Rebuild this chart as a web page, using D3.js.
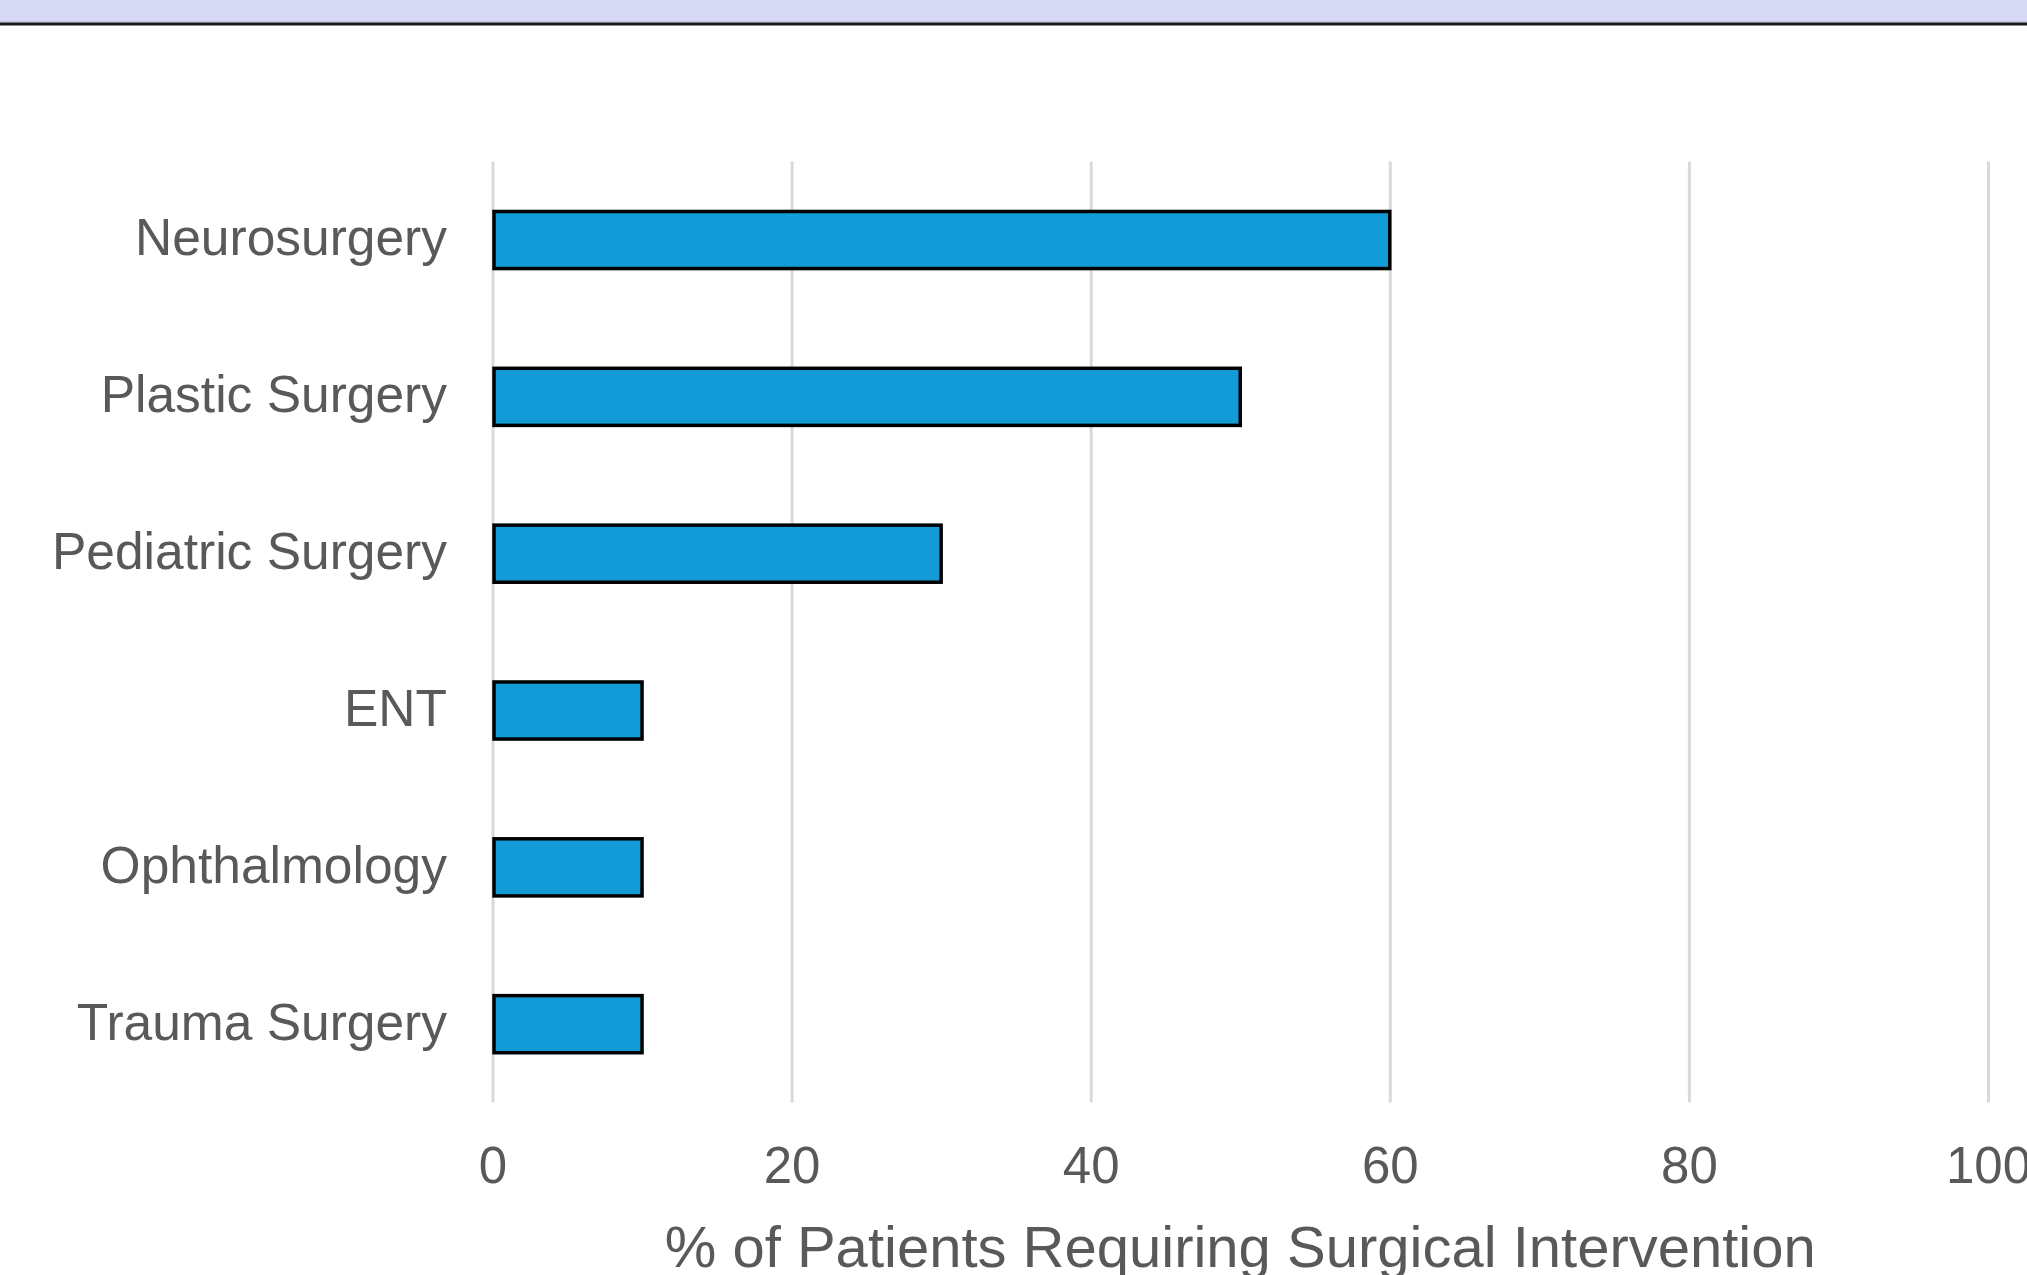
<!DOCTYPE html>
<html>
<head>
<meta charset="utf-8">
<script src="https://cdn.jsdelivr.net/npm/d3@7"></script>
<style>
  html, body { margin: 0; padding: 0; background: #fff; overflow: hidden; }
  svg { display: block; }
</style>
</head>
<body>
<svg id="chart"></svg>
<script>
// chart data
const specialties = ["Neurosurgery", "Plastic Surgery", "Pediatric Surgery", "ENT", "Ophthalmology", "Trauma Surgery"];
const percentRequiringSurgery = [60, 50, 30, 10, 10, 10];
const xTicks = [0, 20, 40, 60, 80, 100];
const xTitle = "% of Patients Requiring Surgical Intervention";

const width = 2027, height = 1275;
const plot = { left: 492.5, right: 1988, top: 161.6, bottom: 1102.6 };
const font = "Arial, 'Liberation Sans', sans-serif";
const textColor = "#595959";

const svg = d3.select("#chart")
    .attr("width", width)
    .attr("height", height);

// top banner strip
svg.append("rect")
    .attr("x", 0).attr("y", 0)
    .attr("width", width).attr("height", 22)
    .attr("fill", "#d6d8f4");
svg.append("line")
    .attr("x1", 0).attr("x2", width)
    .attr("y1", 22).attr("y2", 22)
    .attr("stroke", "#b4b4d2").attr("stroke-width", 1);
svg.append("line")
    .attr("x1", 0).attr("x2", width)
    .attr("y1", 24).attr("y2", 24)
    .attr("stroke", "#1a1a1a").attr("stroke-width", 3);

const data = specialties.map((name, i) => ({ name: name, value: percentRequiringSurgery[i] }));

// scales
const xScale = d3.scaleLinear()
    .domain([0, 100])
    .range([plot.left, plot.right]);

const yScale = d3.scaleBand()
    .domain(specialties)
    .range([plot.top, plot.bottom])
    .paddingInner(0.636)
    .paddingOuter(0.318);

// vertical gridlines + tick labels
const xAxis = svg.append("g")
    .attr("transform", "translate(0," + plot.bottom + ")")
    .call(d3.axisBottom(xScale)
        .tickValues(xTicks)
        .tickFormat(d3.format("d"))
        .tickSize(-(plot.bottom - plot.top))
        .tickPadding(44));

xAxis.select(".domain").remove();
xAxis.selectAll(".tick line")
    .attr("stroke", "#d9d9d9")
    .attr("stroke-width", 3);
xAxis.selectAll(".tick text")
    .attr("fill", textColor)
    .style("font-family", font)
    .style("font-size", "51px");

// bars
svg.append("g")
    .selectAll("rect")
    .data(data)
    .enter().append("rect")
    .attr("x", xScale(0) + 1.5)
    .attr("y", d => yScale(d.name))
    .attr("width", d => xScale(d.value) - xScale(0) - 1.5)
    .attr("height", yScale.bandwidth())
    .attr("fill", "#139bd7")
    .attr("stroke", "#000")
    .attr("stroke-width", 3.5);

// category labels
const yAxis = svg.append("g")
    .attr("transform", "translate(" + plot.left + ",0)")
    .call(d3.axisLeft(yScale)
        .tickSize(0)
        .tickPadding(45.5));

yAxis.select(".domain").remove();
yAxis.selectAll(".tick text")
    .attr("dy", "0.3em")
    .attr("fill", textColor)
    .style("font-family", font)
    .style("font-size", "51.5px");

// axis title
svg.append("text")
    .attr("x", (plot.left + plot.right) / 2)
    .attr("y", 1267)
    .attr("text-anchor", "middle")
    .attr("fill", textColor)
    .style("font-family", font)
    .style("font-size", "58px")
    .text(xTitle);
</script>
</body>
</html>
